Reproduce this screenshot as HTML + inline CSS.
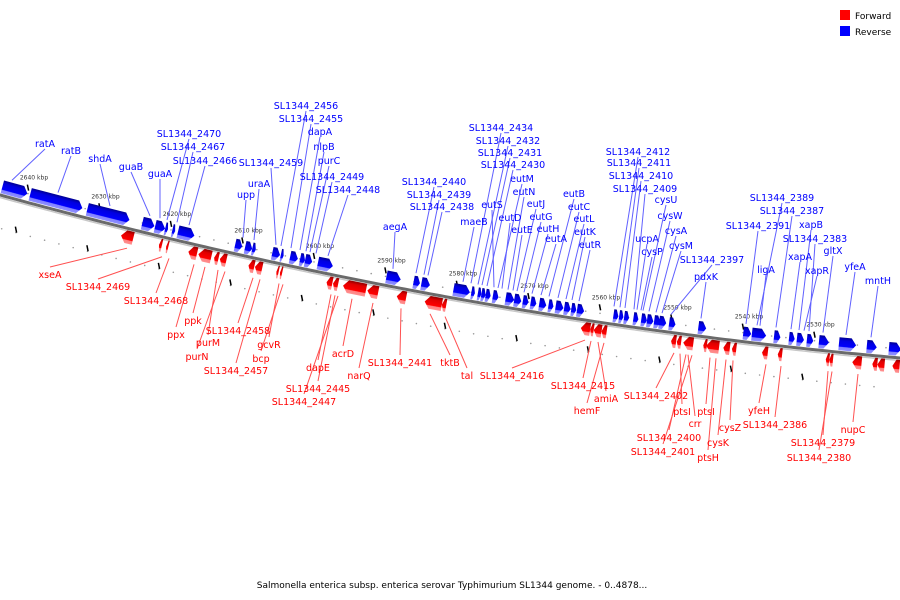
<!DOCTYPE html>
<html><head><meta charset="utf-8"><style>
html,body{margin:0;padding:0;background:#fff;}
svg{display:block;font-family:"DejaVu Sans","Liberation Sans",sans-serif;}
</style></head><body>
<svg id="chart" width="900" height="600" viewBox="0 0 900 600">
<defs>
<linearGradient id="gb" x1="0" y1="0" x2="0" y2="1"><stop offset="0" stop-color="#000090"/><stop offset="0.25" stop-color="#0000e0"/><stop offset="0.7" stop-color="#0000ff"/><stop offset="0.75" stop-color="#8080ff"/><stop offset="1" stop-color="#9090ff"/></linearGradient>
<linearGradient id="gr" x1="0" y1="0" x2="0" y2="1"><stop offset="0" stop-color="#900000"/><stop offset="0.25" stop-color="#e00000"/><stop offset="0.7" stop-color="#ff0000"/><stop offset="0.75" stop-color="#ff8080"/><stop offset="1" stop-color="#ff9090"/></linearGradient>
</defs>
<g id="rows"></g>
<path id="backbone" fill="none" stroke="#6a6a6a" stroke-width="3"/>
<path id="backbone2" fill="none" stroke="#c8c8c8" stroke-width="1.5"/>
<g id="ticks"></g>
<g id="leaders"></g>
<g id="genes"></g>
<g id="labels" font-size="9.5"></g>
<g>
<rect x="840" y="10" width="10" height="10" fill="#ff0000"/>
<text x="855" y="19" font-size="9" fill="#000">Forward</text>
<rect x="840" y="26" width="10" height="10" fill="#0000ff"/>
<text x="855" y="35" font-size="9" fill="#000">Reverse</text>
</g>
<text x="452" y="588" font-size="9" text-anchor="middle" fill="#000">Salmonella enterica subsp. enterica serovar Typhimurium SL1344 genome. - 0..4878...</text>
</svg>
<script>
const tickKbp=[2640,2630,2620,2610,2600,2590,2580,2570,2560,2550,2540,2530];
const revStart=[2643.9,2640.0,2632.0,2624.3,2622.5,2621.1,2620.1,2619.3,2611.3,2609.9,2608.9,2606.1,2604.9,2603.6,2602.2,2601.5,2599.7,2590.1,2586.3,2585.2,2580.7,2578.2,2577.3,2576.8,2576.2,2575.2,2573.4,2572.2,2571.0,2569.9,2568.7,2567.4,2566.4,2565.2,2564.2,2563.4,2558.3,2557.5,2556.8,2555.5,2554.4,2553.6,2552.6,2551.9,2550.5,2546.4,2540.1,2538.9,2535.8,2533.7,2532.6,2531.2,2529.5,2526.7,2522.8,2519.7];
const revEnd=[2640.4,2632.7,2626.1,2622.6,2621.1,2620.7,2619.7,2617.0,2610.3,2608.9,2608.4,2605.0,2604.5,2602.5,2601.5,2600.5,2597.6,2588.1,2585.4,2584.0,2578.4,2577.7,2576.8,2576.2,2575.5,2574.4,2572.2,2571.2,2570.2,2569.1,2567.7,2566.7,2565.3,2564.3,2563.5,2562.4,2557.6,2556.9,2556.1,2554.8,2553.6,2552.7,2551.7,2550.9,2549.6,2545.3,2539.0,2536.9,2534.9,2532.9,2531.6,2530.3,2528.1,2524.3,2521.4,2518.0];
const fwdStart=[2626.7,2621.4,2620.4,2617.3,2615.9,2613.7,2612.9,2608.9,2608.0,2605.0,2604.5,2598.0,2597.1,2595.7,2592.3,2588.2,2584.3,2581.9,2562.5,2561.2,2560.7,2559.6,2549.9,2549.1,2548.2,2545.4,2545.0,2542.6,2541.4,2537.2,2535.0,2528.3,2527.8,2524.6,2521.8,2521.1,2519.0];
const fwdEnd=[2625.0,2621.0,2620.1,2616.1,2614.1,2613.1,2612.0,2608.1,2607.0,2604.7,2604.2,2597.2,2596.4,2592.5,2590.8,2586.9,2581.9,2581.3,2561.2,2560.7,2559.6,2558.9,2549.2,2548.5,2546.8,2544.9,2543.2,2541.7,2540.8,2536.4,2534.4,2527.8,2527.3,2523.3,2521.1,2520.1,2518.0];
const revLabels=[["ratA",45,143,12],["ratB",71,150,58],["shdA",100,158,110],["guaB",131,166,150],["guaA",160,173,160],["SL1344_2470",189,133,167],["SL1344_2467",193,146,177],["SL1344_2466",205,160,189],["upp",246,194,243],["uraA",259,183,254],["SL1344_2459",271,162,276],["SL1344_2456",306,105,281],["SL1344_2455",311,118,291],["dapA",320,131,300],["nlpB",324,146,306],["purC",329,160,310],["SL1344_2449",332,176,316],["SL1344_2448",348,189,328],["aegA",395,226,393],["SL1344_2440",434,181,416],["SL1344_2439",439,194,424],["SL1344_2438",442,206,428],["maeB",474,221,463],["SL1344_2434",501,127,471],["SL1344_2432",508,140,478],["SL1344_2431",510,152,482],["SL1344_2430",513,164,487],["eutS",492,204,494],["eutM",522,178,498],["eutN",524,191,508],["eutD",510,217,502],["eutJ",536,203,517],["eutG",541,216,524],["eutE",522,229,513],["eutH",548,228,532],["eutA",556,238,541],["eutB",574,193,549],["eutC",579,206,558],["eutL",584,218,566],["eutK",585,231,572],["eutR",590,244,579],["SL1344_2412",638,151,614],["SL1344_2411",639,162,620],["SL1344_2410",641,175,625],["SL1344_2409",645,188,634],["cysU",666,199,643],["cysW",670,215,649],["ucpA",647,238,637],["cysA",676,230,656],["cysP",652,251,641],["cysM",681,245,662],["SL1344_2397",712,259,671],["pdxK",706,276,701],["SL1344_2389",782,197,757],["SL1344_2387",792,210,776],["SL1344_2391",758,225,746],["xapB",811,224,799],["SL1344_2383",815,238,809],["gltX",833,250,823],["xapA",800,256,791],["ligA",766,269,760],["xapR",817,270,804],["yfeA",855,266,846],["mntH",878,280,871]];
const fwdLabels=[["xseA",50,274,127],["SL1344_2469",98,286,162],["SL1344_2468",156,300,169],["ppx",176,334,194],["ppk",193,320,205],["purM",208,342,218],["purN",197,356,225],["SL1344_2458",238,330,253],["gcvR",269,344,279],["bcp",261,358,283],["SL1344_2457",236,370,260],["dapE",318,367,331],["acrD",343,353,352],["SL1344_2445",318,388,335],["SL1344_2447",304,401,338],["narQ",359,375,373],["SL1344_2441",400,362,401],["tktB",450,362,430],["tal",467,375,445],["SL1344_2416",512,375,585],["SL1344_2415",583,385,591],["amiA",606,398,598],["hemF",587,410,604],["SL1344_2402",656,395,674],["ptsI",682,411,680],["ptsI",706,411,710],["crr",695,423,688],["SL1344_2400",669,437,686],["SL1344_2401",663,451,692],["cysZ",730,427,733],["cysK",718,442,726],["ptsH",708,457,716],["yfeH",759,410,766],["SL1344_2386",775,424,781],["SL1344_2379",823,442,828],["SL1344_2380",819,457,832],["nupC",853,429,858]];

const NS="http://www.w3.org/2000/svg";
function X(k){return 28+(2640-k)*7.15;}
function Y(x){return 195+0.2744*x-1.037e-4*x*x;}
function S(x){return 0.2744-2*1.037e-4*x;}
function mk(t,a,p){const e=document.createElementNS(NS,t);for(const k in a)e.setAttribute(k,a[k]);p.appendChild(e);return e;}
let d="";for(let x=-5;x<=905;x+=5){d+=(x<0?"M":"L")+x+","+Y(x).toFixed(2);}
document.getElementById('backbone').setAttribute('d',d);
let d2="";for(let x=-5;x<=905;x+=5){d2+=(x<0?"M":"L")+x+","+(Y(x)+2.5).toFixed(2);}
document.getElementById('backbone2').setAttribute('d',d2);
const rows=document.getElementById('rows'),ticks=document.getElementById('ticks');
for(let k=2644;k>=2516;k-=2){const x=X(k);if(x<0||x>900)continue;
 const a=mk('circle',{cx:x,cy:Y(x)-9,r:0.8,fill:'#999'},rows);
 
 
 const b=mk('circle',{cx:x-12,cy:Y(x)+30,r:0.8,fill:'#999'},rows);
 
 }
tickKbp.forEach(k=>{const x=X(k),y=Y(x);
 const t=mk('line',{x1:x-0.6,y1:y-18,x2:x+0.6,y2:y-12,stroke:'#000','stroke-width':1.5},ticks);
 
 
 const t2=mk('line',{x1:x-12.6,y1:y+24,x2:x-11.4,y2:y+30,stroke:'#000','stroke-width':1.5},ticks);
 
 
 const l=mk('text',{x:x+6,y:y-23,'font-size':6,'text-anchor':'middle',fill:'#333'},ticks);l.textContent=k+" kbp";
 
 });
const genes=document.getElementById('genes');
function gene(xs,xe,rev){const s=S((xs+xe)/2),L=(xe-xs)*Math.sqrt(1+s*s),ang=Math.atan(s)*180/Math.PI;
 const h=Math.min(5,L*0.5);let pts;
 if(rev){pts=`0,-15 ${L-h},-15 ${L},-8.5 ${L-h},-2 0,-2`;}
 else{pts=`${h},2 ${L},2 ${L},15 ${h},15 0,8.5`;}
 const g=mk('polygon',{points:pts,fill:rev?'url(#gb)':'url(#gr)',transform:`translate(${xs},${Y(xs)}) rotate(${ang})`},genes);
 return g;}
revStart.forEach((k,i)=>{const g=gene(X(k),X(revEnd[i]),true);
 
 });
fwdStart.forEach((k,i)=>{const g=gene(X(k),X(fwdEnd[i]),false);
 
 });
const leaders=document.getElementById('leaders'),labels=document.getElementById('labels');
revLabels.forEach(([t,lx,ly,tx])=>{const ln=mk('line',{x1:lx,y1:ly+6,x2:tx,y2:Y(tx)-18,stroke:'#6060ff','stroke-width':1},leaders);
 
 
 const e=mk('text',{x:lx,y:ly+4,'text-anchor':'middle',fill:'#0000ff'},labels);e.textContent=t;
 
 });
fwdLabels.forEach(([t,lx,ly,tx])=>{const ln=mk('line',{x1:lx,y1:ly-7,x2:tx,y2:Y(tx)+20,stroke:'#ff5050','stroke-width':1},leaders);
 
 
 const e=mk('text',{x:lx,y:ly+4,'text-anchor':'middle',fill:'#ff0000'},labels);e.textContent=t;
 
 });
</script>
</body></html>
